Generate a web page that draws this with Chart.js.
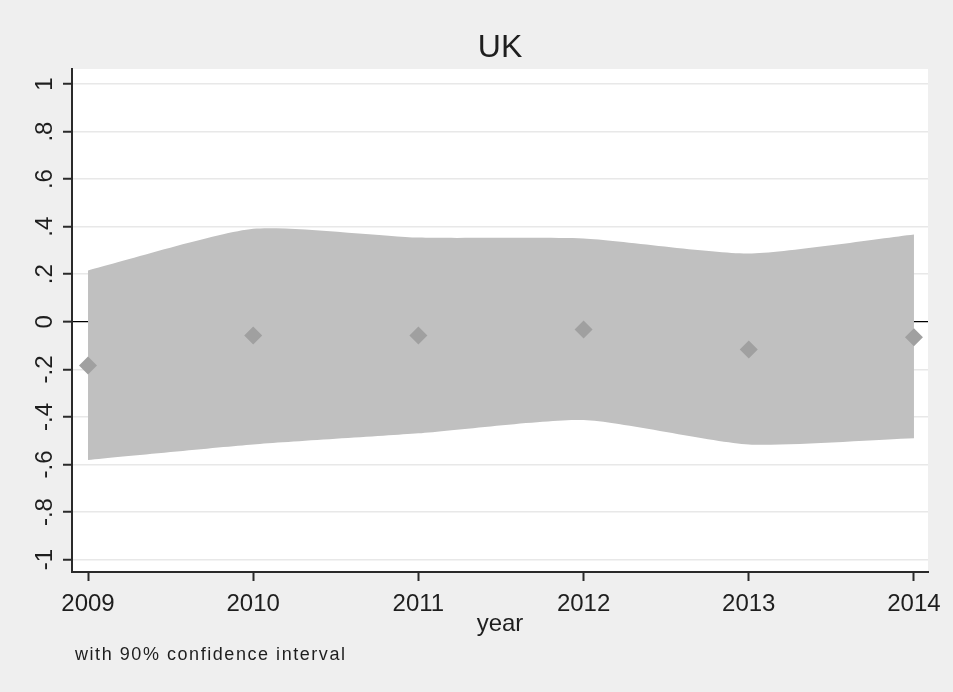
<!DOCTYPE html>
<html>
<head>
<meta charset="utf-8">
<script src="https://cdn.jsdelivr.net/npm/chart.js@4/dist/chart.umd.min.js"></script>
<style>
  html, body { margin: 0; padding: 0; background: #efefef; }
  #wrap { width: 953px; height: 692px; position: relative; }
</style>
</head>
<body>
<div id="wrap"><canvas id="ukChart"></canvas></div>
<script>
// Point estimates and 90% confidence band
const years = [2009, 2010, 2011, 2012, 2013, 2014];
const estimate = [-0.184, -0.058, -0.058, -0.032, -0.116, -0.065];
const ciUpper = [0.216, 0.391, 0.354, 0.350, 0.287, 0.367];
const ciLower = [-0.581, -0.516, -0.469, -0.413, -0.516, -0.490];
const yTicks = [-1, -0.8, -0.6, -0.4, -0.2, 0, 0.2, 0.4, 0.6, 0.8, 1];

const textColor = '#1e1e1e';
const axisColor = '#2a2a2a';

// Stata-style labels: ".8", "-.2", "0", "1"
function stataLabel(v) {
  const r = Math.round(v * 10) / 10;
  if (r === 0) return '0';
  return String(r).replace('0.', '.');
}

const toPoints = (vals) => years.map((yr, i) => ({ x: yr, y: vals[i] }));

// White plot region, then the text Stata puts around the graph
const stataFrame = {
  id: 'stataFrame',
  beforeDraw(chart) {
    const { ctx, chartArea } = chart;
    ctx.save();
    ctx.fillStyle = '#ffffff';
    ctx.fillRect(chartArea.left, chartArea.top,
      chartArea.right - chartArea.left, chartArea.bottom - chartArea.top);
    ctx.restore();
  },
  afterDraw(chart) {
    const { ctx, chartArea, scales } = chart;
    const midX = (chartArea.left + chartArea.right) / 2;
    ctx.save();
    ctx.fillStyle = textColor;
    ctx.textAlign = 'center';
    ctx.textBaseline = 'alphabetic';

    ctx.font = '32px "Liberation Sans", Arial, sans-serif';
    ctx.fillText('UK', midX, 57);

    ctx.font = '24px "Liberation Sans", Arial, sans-serif';
    ctx.fillText('year', midX, 631);

    // rotated y tick labels
    scales.y.ticks.forEach((t) => {
      const py = scales.y.getPixelForValue(t.value);
      ctx.save();
      ctx.translate(52, py);
      ctx.rotate(-Math.PI / 2);
      ctx.fillText(stataLabel(t.value), 0, 0);
      ctx.restore();
    });

    ctx.textAlign = 'left';
    ctx.font = '18px "Liberation Sans", Arial, sans-serif';
    ctx.letterSpacing = '1.55px';
    ctx.fillText('with 90% confidence interval', 75, 660);
    ctx.restore();
  }
};

const ctx = document.getElementById('ukChart').getContext('2d');
new Chart(ctx, {
  type: 'line',
  data: {
    datasets: [{
      label: 'estimate',
      data: toPoints(estimate),
      showLine: false,
      pointStyle: 'rectRot',
      pointRadius: 9,
      pointBorderWidth: 0,
      pointBackgroundColor: '#a0a0a0',
      pointBorderColor: '#a0a0a0',
      order: 0
    }, {
      label: 'upper',
      data: toPoints(ciUpper),
      borderWidth: 0,
      borderColor: 'rgba(0,0,0,0)',
      pointRadius: 0,
      tension: 0.2,
      backgroundColor: '#c0c0c0',
      fill: '+1',
      order: 1
    }, {
      label: 'lower',
      data: toPoints(ciLower),
      borderWidth: 0,
      borderColor: 'rgba(0,0,0,0)',
      pointRadius: 0,
      tension: 0.2,
      fill: false,
      order: 2
    }]
  },
  options: {
    responsive: true,
    maintainAspectRatio: false,
    animation: false,
    layout: { padding: { left: 0, right: 25, top: 69, bottom: 0 } },
    plugins: {
      legend: { display: false },
      title: { display: false },
      tooltip: { enabled: false }
    },
    scales: {
      x: {
        type: 'linear',
        min: 2008.903,
        max: 2014.085,
        afterBuildTicks: (scale) => { scale.ticks = years.map(v => ({ value: v })); },
        afterFit: (scale) => { scale.height = 120; },
        grid: {
          drawOnChartArea: false,
          tickLength: 9,
          tickColor: axisColor,
          tickWidth: 2
        },
        border: { color: axisColor, width: 2 },
        ticks: {
          color: textColor,
          font: { family: '"Liberation Sans", Arial, sans-serif', size: 24 },
          padding: 9,
          maxRotation: 0,
          callback: (v) => String(v)
        }
      },
      y: {
        type: 'linear',
        min: -1.052,
        max: 1.063,
        afterBuildTicks: (scale) => { scale.ticks = yTicks.map(v => ({ value: v })); },
        afterFit: (scale) => { scale.width = 72; },
        grid: {
          color: (c) => (c.tick && Math.abs(c.tick.value) < 1e-9 ? '#000000' : '#e8e8e8'),
          lineWidth: (c) => (c.tick && Math.abs(c.tick.value) < 1e-9 ? 1.3 : 1.5),
          tickLength: 9,
          tickColor: axisColor,
          tickWidth: 2
        },
        border: { color: axisColor, width: 2 },
        ticks: { display: false }
      }
    }
  },
  plugins: [stataFrame]
});
</script>
</body>
</html>
